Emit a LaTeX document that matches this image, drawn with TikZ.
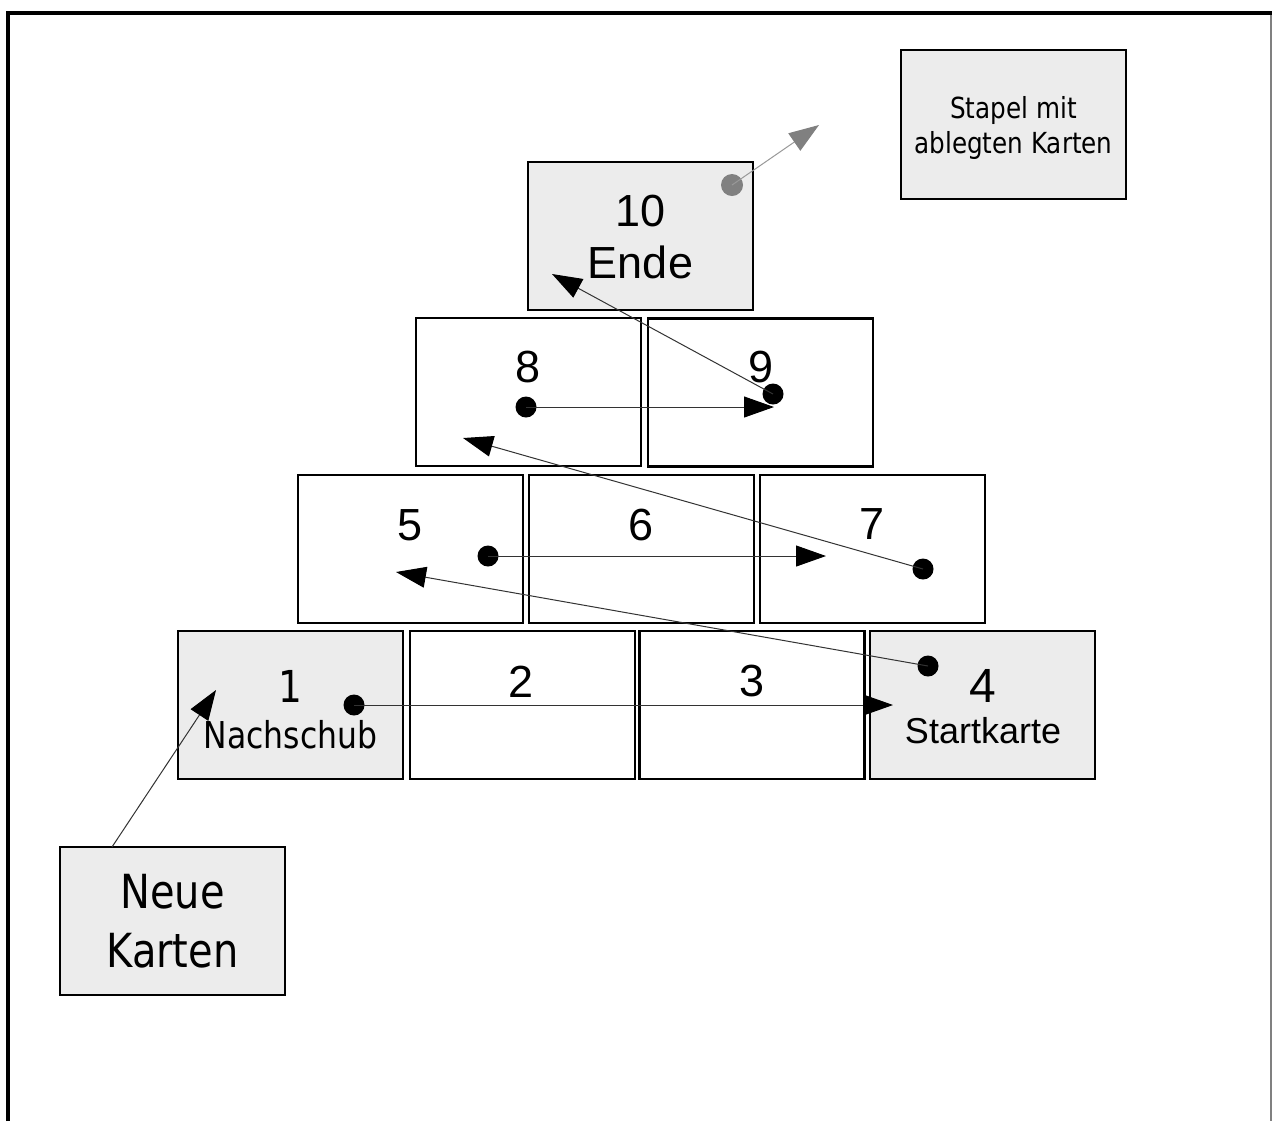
\documentclass[tikz,border=0pt]{standalone}
\usepackage{fontspec}
\setmainfont{Liberation Sans}
\newfontfamily\tah[FakeStretch=0.85]{DejaVu Sans}
\usetikzlibrary{arrows.meta}
\definecolor{cardgrey}{HTML}{ECECEC}
\definecolor{conngrey}{HTML}{333333}
\tikzset{
  card/.style={draw, line width=1.2pt, minimum width=112.5pt, minimum height=74pt, inner sep=0pt},
  greycard/.style={card, fill=cardgrey},
  num/.style={anchor=base, inner sep=0pt, font=\fontsize{22.5}{27}\selectfont},
  lbl/.style={anchor=base, inner sep=0pt},
  dot/.style={circle, fill=black, minimum size=10.5pt, inner sep=0pt},
  gdot/.style={circle, fill=gray, minimum size=11pt, inner sep=0pt},
  conn/.style={draw=conngrey, line width=0.5pt, -{Triangle[length=15pt,width=10.5pt,fill=black,color=black]}},
  gconn/.style={draw=gray!80, line width=0.5pt, -{Triangle[length=15pt,width=10.5pt,fill=gray,color=gray]}},
}
\begin{document}
\begin{tikzpicture}[x=0.5pt,y=-0.5pt]
\useasboundingbox (0,0) rectangle (1272,1121);
\fill[white] (0,0) rectangle (1272,1121);
% frame
\draw[line width=2pt] (8.3,1121) -- (8.3,13.3) -- (1272,13.3);
\draw[gray, line width=0.8pt] (1271,15) -- (1271,1121);
% boxes
\node[greycard, minimum height=74.5pt] (stapel) at (1013.5,124.5) {};
\node[greycard] (b10) at (640.5,236) {};
\node[card] (b8) at (528.5,392) {};
\node[card] (b9) at (760.5,392.5) {};
\node[card] (b5) at (410.5,549) {};
\node[card] (b6) at (641.5,549) {};
\node[card] (b7) at (872.5,549) {};
\node[greycard] (b1) at (290.5,705) {};
\node[card] (b2) at (522.5,705) {};
\node[card] (b3) at (752,705) {};
\node[greycard] (b4) at (982.5,705) {};
\node[greycard] (neue) at (172.5,921) {};
% texts
\node[lbl, font=\tah\fontsize{14.5}{17}\selectfont] (ts1) at (1013.5,118) {Stapel mit};
\node[lbl, font=\tah\fontsize{14.5}{17}\selectfont] (ts2) at (1013.5,153.5) {ablegten Karten};
\node[num] (t10) at (640.5,226) {10};
\node[num] (tende) at (640.5,278) {Ende};
\node[num] (t8) at (528,382) {8};
\node[num] (t9) at (761,382) {9};
\node[num] (t5) at (410,540) {5};
\node[num] (t6) at (641,540) {6};
\node[num] (t7) at (872,539) {7};
\node[lbl, font=\tah\fontsize{22}{26}\selectfont] (t1) at (290,702) {1};
\node[lbl, font=\tah\fontsize{18.5}{22}\selectfont] (tnach) at (290.5,748) {Nachschub};
\node[num] (t2) at (521,697) {2};
\node[num] (t3) at (752,696) {3};
\node[num, font=\fontsize{24}{28}\selectfont] (t4) at (983,702) {4};
\node[lbl, font=\fontsize{18}{22}\selectfont] (tstart) at (983,743) {Startkarte};
\node[lbl, font=\tah\fontsize{23.5}{28}\selectfont] (tneue) at (172.5,908) {Neue};
\node[lbl, font=\tah\fontsize{23.5}{28}\selectfont] (tkarten) at (172.5,967) {Karten};
% dots
\node[dot] (d1) at (354,705) {};
\node[dot] (d4) at (928,666) {};
\node[dot] (d5) at (488,556) {};
\node[dot] (d7) at (923,569) {};
\node[dot] (d8) at (526,407) {};
\node[dot] (d9) at (773,394) {};
\node[gdot] (d10) at (732,185) {};
% arrow end points
\coordinate (e1) at (893,705);
\coordinate (e4) at (396,572);
\coordinate (e5) at (826,556);
\coordinate (e7) at (463,438);
\coordinate (e8) at (774,407);
\coordinate (e9) at (552,274);
\coordinate (e10) at (819,125);
\coordinate (en) at (216,690);
\coordinate (sn) at (112,847);
% connectors
\draw[gconn] (d10.center) -- (e10);
\draw[conn] (d1.center) -- (e1);
\draw[conn] (d4.center) -- (e4);
\draw[conn] (d5.center) -- (e5);
\draw[conn] (d7.center) -- (e7);
\draw[conn] (d8.center) -- (e8);
\draw[conn] (d9.center) -- (e9);
\draw[conn] (sn) -- (en);
\end{tikzpicture}
\end{document}
